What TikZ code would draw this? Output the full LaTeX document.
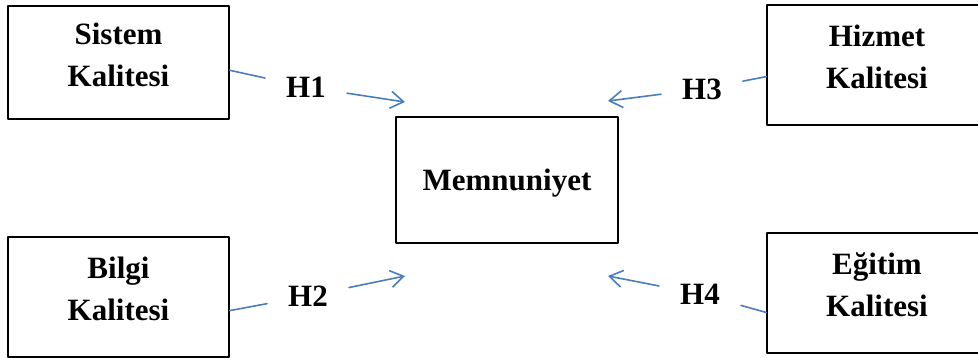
\documentclass[tikz,border=0pt]{standalone}
\usepackage{fontspec}
\setmainfont{Liberation Serif}
\usetikzlibrary{arrows.meta}
\definecolor{linkblue}{RGB}{74,126,187}
\begin{document}
\begin{tikzpicture}[x=1pt,y=-1pt,line join=round,line cap=round,
	font=\fontsize{31}{42}\selectfont\bfseries,
	box/.style={draw,line width=1.3pt,minimum width=221pt,minimum height=120pt,align=center,inner sep=0pt,text depth=16pt},
	hyp/.style={inner xsep=21pt,inner ysep=2pt},
	link/.style={draw=linkblue,line width=1.6pt},
	arr/.style={link,-{Straight Barb[length=13pt,width=17pt,line width=1.6pt]}}]
	\useasboundingbox (0,0) rectangle (978,358);
	% boxes
	\node[box,minimum height=113pt] (sis) at (118.5,62.5) {Sistem\\Kalitesi};
	\node[box] (bil) at (118.5,297) {Bilgi\\Kalitesi};
	\node[box,minimum width=220pt] (hiz) at (877,65) {Hizmet\\Kalitesi};
	\node[box,minimum width=220pt] (egi) at (877,293) {Eğitim\\Kalitesi};
	\node[box,minimum width=222pt,minimum height=126pt,text depth=0pt] (mem) at (507,180) {Memnuniyet};
	% hypotheses
	\node[hyp] (h1) at (306,87) {H1};
	\node[hyp] (h2) at (308,296) {H2};
	\node[hyp] (h3) at (702,89) {H3};
	\node[hyp] (h4) at (700,294) {H4};
	\coordinate (t1) at (405,102);
	\coordinate (t2) at (405,276);
	\coordinate (t3) at (608,101);
	\coordinate (t4) at (608,276);
	\draw[link] (sis.-4)--(h1) (bil.-7.7)--(h2) (hiz.186.7)--(h3) (egi.190.3)--(h4);
	\draw[arr] (h1)--(t1);
	\draw[arr] (h2)--(t2);
	\draw[arr] (h3)--(t3);
	\draw[arr] (h4)--(t4);
\end{tikzpicture}
\end{document}
